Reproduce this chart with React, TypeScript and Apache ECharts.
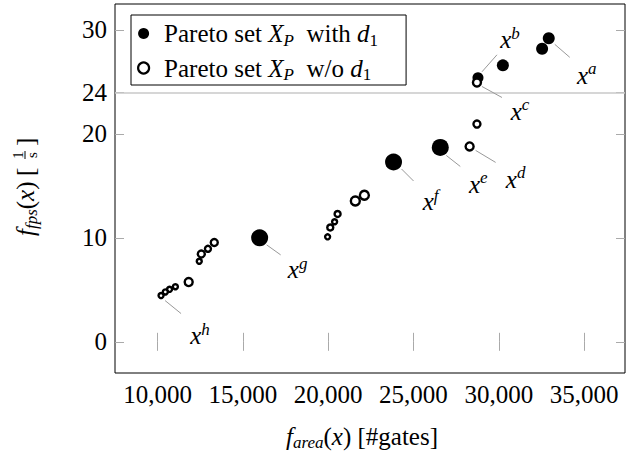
import React, { useEffect, useRef } from "react";
import * as echarts from "echarts";

// Pareto set with d1 (filled markers)
const withD1X = [32930, 32540, 30240, 28780, 26570, 23830, 15980];
const withD1Y = [29.2, 28.2, 26.6, 25.4, 18.7, 17.3, 10.0];
const withD1Size = [12, 12, 12, 11, 17, 17, 17];

// Pareto set without d1 (hollow markers)
const withoutD1X = [28720, 28720, 28290, 22120, 21590, 20550, 20375, 20120, 19965, 13320, 12950, 12560, 12440, 11820, 11040, 10700, 10450, 10200];
const withoutD1Y = [24.95, 20.95, 18.8, 14.1, 13.55, 12.3, 11.55, 11.0, 10.1, 9.55, 8.95, 8.45, 7.75, 5.75, 5.3, 5.05, 4.8, 4.45];
const withoutD1Size = [10, 9, 10, 11, 11, 8, 7, 8, 7, 9, 8, 9, 7, 10, 7, 7, 7, 7];

const xTicks = [10000, 15000, 20000, 25000, 30000, 35000];
const yTicks = [0, 10, 20, 24, 30];
const refLineY = 24;

const seriesNames = ["Pareto set X_P with d_1", "Pareto set X_P w/o d_1"];

// annotated solutions: letter, series index, data index
const annotLetters = ["a", "b", "c", "d", "e", "f", "g", "h"];
const annotSeries = [0, 0, 1, 1, 0, 0, 0, 1];
const annotIndex = [0, 3, 0, 2, 4, 5, 6, 17];

const FONT = "Liberation Serif";
const FS = 25;

// pixel offsets of annotation pins (layout only)
const annotLayout: Record<string, { line: number[]; label: number[] }> = {
  a: { line: [6, 6, 21, 19], label: [38, 37] },
  b: { line: [4, -6, 19, -23], label: [32, -38] },
  c: { line: [5, 4, 25, 15], label: [43, 29] },
  d: { line: [6, 4, 26, 16], label: [46, 33] },
  e: { line: [6, 8, 20, 19], label: [38, 37] },
  f: { line: [8, 7, 20, 19], label: [37, 40] },
  g: { line: [7, 7, 21, 17], label: [38, 32] },
  h: { line: [4, 5, 20, 18], label: [39, 40] },
};

const mathRich = {
  i: { fontFamily: FONT, fontStyle: "italic", fontSize: FS, color: "#000", lineHeight: 30 },
  n: { fontFamily: FONT, fontSize: FS, color: "#000", lineHeight: 30 },
  s: { fontFamily: FONT, fontStyle: "italic", fontSize: 17, color: "#000", lineHeight: 17, verticalAlign: "bottom" },
  sp: { fontFamily: FONT, fontStyle: "italic", fontSize: 17, color: "#000", lineHeight: 17, verticalAlign: "top" },
  u: { fontFamily: FONT, fontSize: 17, color: "#000", lineHeight: 17, verticalAlign: "bottom" },
  gap: { width: 10 },
};

export default function App() {
  const ref = useRef<HTMLDivElement>(null);
  useEffect(() => {
    if (!ref.current) return;
    const chart = echarts.init(ref.current, null, { renderer: "svg" });
    const xMin = 7500, xMax = 37400, yMin = -3.0, yMax = 32.5;
    const tickStyle = { color: "#aaa", width: 1 };
    const dataFilled = withD1X.map((x, i) => [x, withD1Y[i]]);
    const dataHollow = withoutD1X.map((x, i) => [x, withoutD1Y[i]]);
    chart.setOption({
      animation: false,
      textStyle: { fontFamily: FONT },
      grid: { left: 115, top: 4, right: 1, bottom: 80, show: true, borderColor: "#000", borderWidth: 1 },
      legend: {
        left: 131,
        top: 15,
        orient: "vertical",
        padding: [6, 28, 2, 6],
        itemGap: 7,
        itemWidth: 11,
        itemHeight: 11,
        borderColor: "#000",
        borderWidth: 1,
        backgroundColor: "#fff",
        data: [
          { name: seriesNames[0], icon: "circle", itemStyle: { color: "#000", borderWidth: 0 } },
          { name: seriesNames[1], icon: "circle", itemStyle: { color: "#fff", borderColor: "#000", borderWidth: 2.2 } },
        ],
        formatter: (name: string) =>
          name === seriesNames[0]
            ? "{gap|}{n|Pareto set }{i|X}{s|P}{n|  with }{i|d}{u|1}"
            : "{gap|}{n|Pareto set }{i|X}{s|P}{n|  w/o }{i|d}{u|1}",
        textStyle: { fontFamily: FONT, fontSize: FS, color: "#000", rich: mathRich },
      },
      xAxis: [
        {
          type: "value",
          min: xMin,
          max: xMax,
          position: "bottom",
          axisLine: { show: false },
          splitLine: { show: false },
          axisTick: { show: true, inside: true, length: 9, customValues: xTicks, lineStyle: tickStyle },
          axisLabel: {
            customValues: xTicks,
            formatter: (v: number) => v.toLocaleString("en-US"),
            margin: 9,
            fontFamily: FONT,
            fontSize: FS,
            color: "#000",
          },
          name: "{i|f}{s|area}{n|(}{i|x}{n|) [#gates]}",
          nameLocation: "middle",
          nameGap: 48,
          nameTextStyle: { fontFamily: FONT, rich: mathRich, padding: [0, 16, 0, 0] },
        },
        {
          type: "value",
          min: xMin,
          max: xMax,
          position: "top",
          axisLine: { show: false },
          splitLine: { show: false },
          axisTick: { show: true, inside: true, length: 9, customValues: xTicks, lineStyle: tickStyle },
          axisLabel: { show: false },
        },
      ],
      yAxis: [
        {
          type: "value",
          min: yMin,
          max: yMax,
          position: "left",
          axisLine: { show: false },
          splitLine: { show: false },
          axisTick: { show: true, inside: true, length: 9, customValues: yTicks, lineStyle: tickStyle },
          axisLabel: { customValues: yTicks, margin: 8, fontFamily: FONT, fontSize: FS, color: "#000" },
        },
        {
          type: "value",
          min: yMin,
          max: yMax,
          position: "right",
          axisLine: { show: false },
          splitLine: { show: false },
          axisTick: { show: true, inside: true, length: 9, customValues: yTicks, lineStyle: tickStyle },
          axisLabel: { show: false },
        },
      ],
      series: [
        {
          name: seriesNames[0],
          type: "scatter",
          data: dataFilled,
          symbol: "circle",
          symbolSize: (_v: any, p: any) => withD1Size[p.dataIndex],
          itemStyle: { color: "#000", opacity: 1 },
          markLine: {
            silent: true,
            symbol: "none",
            label: { show: false },
            lineStyle: { color: "#c8c8c8", width: 1.5, type: "solid" },
            data: [{ yAxis: refLineY }],
          },
          z: 3,
        },
        {
          name: seriesNames[1],
          type: "scatter",
          data: dataHollow,
          symbol: "circle",
          symbolSize: (_v: any, p: any) => withoutD1Size[p.dataIndex] - 2,
          itemStyle: { color: "#fff", borderColor: "#000", borderWidth: 2.4, opacity: 1 },
          z: 4,
        },
      ],
    });

    const graphics: any[] = [];
    annotLetters.forEach((letter, k) => {
      const s = annotSeries[k];
      const idx = annotIndex[k];
      const pt = s === 0 ? [withD1X[idx], withD1Y[idx]] : [withoutD1X[idx], withoutD1Y[idx]];
      const [px, py] = chart.convertToPixel({ gridIndex: 0 }, pt) as number[];
      const L = annotLayout[letter];
      graphics.push({
        type: "line",
        shape: { x1: px + L.line[0], y1: py + L.line[1], x2: px + L.line[2], y2: py + L.line[3] },
        style: { stroke: "#999", lineWidth: 1 },
        z: 10,
      });
      graphics.push({
        type: "text",
        x: px + L.label[0],
        y: py + L.label[1],
        style: {
          text: "{i|x}{sp|" + letter + "}",
          rich: mathRich,
          align: "center",
          verticalAlign: "middle",
        },
        z: 10,
      });
    });
    // rotated y-axis title with a stacked fraction
    graphics.push({
      type: "group",
      x: 25,
      y: 184,
      rotation: Math.PI / 2,
      children: [
        {
          type: "text",
          x: -52,
          y: 0,
          style: { text: "{i|f}{s|fps}{n|(}{i|x}{n|)}", rich: mathRich, align: "left", verticalAlign: "middle" },
        },
        { type: "text", x: 8, y: 0, style: { text: "[", fontFamily: FONT, fontSize: FS, fill: "#000", align: "left", verticalAlign: "middle" } },
        { type: "text", x: 29, y: -7, style: { text: "1", fontFamily: FONT, fontSize: 15, fill: "#000", align: "center", verticalAlign: "middle" } },
        { type: "line", shape: { x1: 25, y1: 0, x2: 33, y2: 0 }, style: { stroke: "#000", lineWidth: 1 } },
        { type: "text", x: 29, y: 7, style: { text: "s", fontFamily: FONT, fontSize: 15, fill: "#000", align: "center", verticalAlign: "middle" } },
        { type: "text", x: 38, y: 0, style: { text: "]", fontFamily: FONT, fontSize: FS, fill: "#000", align: "left", verticalAlign: "middle" } },
      ],
    });
    chart.setOption({ graphic: graphics });

    return () => chart.dispose();
  }, []);
  return <div ref={ref} style={{ position: "absolute", left: 0, top: 0, width: 626, height: 456 }} />;
}
